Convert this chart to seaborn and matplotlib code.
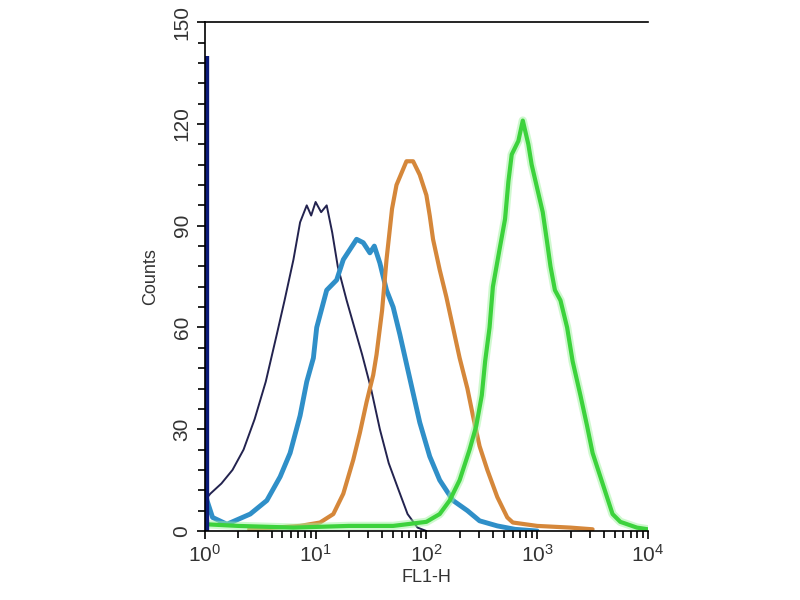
import numpy as np
import pandas as pd
import matplotlib
matplotlib.use("Agg")
import matplotlib.pyplot as plt
import matplotlib.ticker as mticker
import seaborn as sns

# FL1-H channel values stored as log10 exponents, counts
navy_log = [0.00, 0.05, 0.15, 0.25, 0.35, 0.45, 0.55, 0.65, 0.72, 0.80, 0.86, 0.92,
            0.96, 1.00, 1.05, 1.10, 1.15, 1.20, 1.28, 1.35, 1.42, 1.50, 1.58, 1.66,
            1.75, 1.83, 1.92, 2.00]
navy_cnt = [9, 11, 14, 18, 24, 33, 44, 58, 68, 80, 91, 96,
            93, 97, 94, 96, 88, 78, 68, 60, 52, 42, 30, 20,
            12, 5, 1, 0]

spike_log = 0.0
spike_cnt = 140

blue_log = [0.00, 0.02, 0.07, 0.20, 0.41, 0.56, 0.68, 0.77, 0.86, 0.92, 0.98, 1.01,
            1.10, 1.19, 1.25, 1.37, 1.43, 1.49, 1.53, 1.58, 1.64, 1.70, 1.76, 1.85,
            1.94, 2.03, 2.12, 2.24, 2.37, 2.48, 2.64, 2.80, 3.00]
blue_cnt = [12, 9, 4, 2, 5, 9, 16, 23, 34, 44, 51, 60,
            71, 74, 80, 86, 85, 82, 84, 79, 71, 66, 58, 45,
            32, 22, 15, 9, 6, 3, 1.5, 0.5, 0]

orange_log = [0.40, 0.86, 1.04, 1.16, 1.25, 1.34, 1.40, 1.46, 1.52, 1.55, 1.60, 1.64,
              1.69, 1.73, 1.82, 1.88, 1.94, 2.00, 2.03, 2.06, 2.12, 2.18, 2.24, 2.30,
              2.37, 2.42, 2.48, 2.55, 2.64, 2.73, 2.78, 3.00, 3.30, 3.50]
orange_cnt = [0.5, 1.5, 2.5, 5, 11, 21, 29, 38, 46, 52, 65, 80,
              95, 102, 109, 109, 105, 99, 93, 86, 77, 69, 60, 51,
              42, 34, 25, 18, 10, 4, 2.5, 1.5, 1, 0.5]

green_log = [0.00, 0.30, 0.80, 1.30, 1.70, 2.00, 2.12, 2.21, 2.30, 2.39, 2.45, 2.50,
             2.53, 2.57, 2.60, 2.66, 2.71, 2.74, 2.77, 2.83, 2.87, 2.92, 2.95, 3.00,
             3.05, 3.09, 3.12, 3.16, 3.21, 3.27, 3.32, 3.39, 3.45, 3.50, 3.57, 3.63,
             3.68, 3.75, 3.90, 4.00]
green_cnt = [2, 1.5, 1, 1.5, 1.5, 2.7, 5, 9, 15, 24, 31, 40,
             50, 60, 72, 83, 92, 103, 111, 115, 121, 114, 108, 101,
             94, 85, 78, 71, 68, 60, 50, 40, 31, 23, 16, 10,
             5, 2.7, 1, 0.5]

series = [
    ("navy", navy_log, navy_cnt, "#23234f", 1.4),
    ("blue", blue_log, blue_cnt, "#2f8fc8", 3.5),
    ("orange", orange_log, orange_cnt, "#d5873a", 3.0),
    ("green", green_log, green_cnt, "#3cd23c", 3.0),
]

sns.set_style("ticks")
plt.rcParams["font.family"] = ["Liberation Sans", "DejaVu Sans"]

fig = plt.figure(figsize=(8, 6), dpi=100)
ax = fig.add_axes([0.256, 0.115, 0.554, 0.848])

for name, lx, cnt, color, lw in series:
    df = pd.DataFrame({"FL1": 10 ** np.array(lx), "Counts": cnt})
    if name == "green":
        sns.lineplot(data=df, x="FL1", y="Counts", ax=ax, color="#9ff29f",
                     linewidth=lw + 3, alpha=0.5, estimator=None)
    sns.lineplot(data=df, x="FL1", y="Counts", ax=ax, color=color,
                 linewidth=lw, estimator=None)

ax.vlines(10 ** spike_log * 1.014, 0, spike_cnt, color="#0b1a78", linewidth=6)

ax.set_xscale("log")
ax.set_xlim(1, 1e4)
ax.set_ylim(0, 150)
ax.set_yticks([0, 30, 60, 90, 120, 150])
ax.yaxis.set_minor_locator(mticker.MultipleLocator(6))
ax.xaxis.set_minor_locator(mticker.LogLocator(base=10, subs=np.arange(2, 10)))
ax.xaxis.set_minor_formatter(mticker.NullFormatter())

for side in ["left", "bottom", "top"]:
    ax.spines[side].set_color("black")
    ax.spines[side].set_linewidth(1.2)
ax.spines["right"].set_visible(False)

ax.tick_params(axis="both", which="major", direction="out", length=6, width=1.2,
               colors="black", labelcolor="#333333", labelsize=15)
ax.tick_params(axis="both", which="minor", direction="out", length=5, width=1.2,
               colors="black")
ax.tick_params(axis="x", which="both", top=False)
ax.tick_params(axis="y", which="both", right=False)
for lab in ax.get_yticklabels():
    lab.set_rotation(90)
    lab.set_va("center")

ax.set_xlabel("FL1-H", fontsize=13, labelpad=2, color="#333333")
ax.set_ylabel("Counts", fontsize=13, labelpad=10, color="#333333")
ax.grid(False)

fig.savefig("out.png", dpi=100, facecolor="white")
